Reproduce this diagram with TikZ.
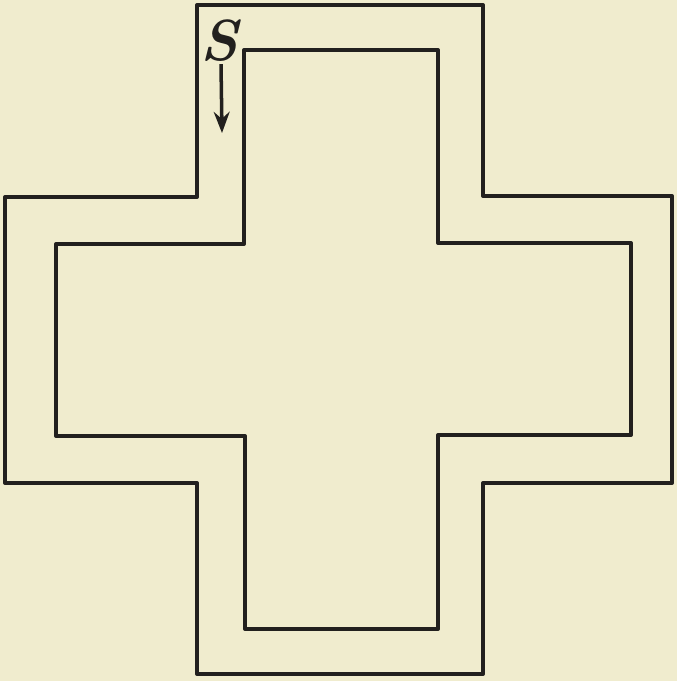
\documentclass[tikz,border=0pt]{standalone}
\usepackage{tikz}
\usetikzlibrary{arrows.meta, positioning}

\definecolor{paper}{RGB}{240,236,206}
\definecolor{ink}{RGB}{34,32,30}

\begin{document}
\begin{tikzpicture}[
        x=0.02cm, y=-0.02cm,
        wall/.style={draw=ink, line width=2.3pt, line join=round},
        start/.style={font=\fontsize{33}{33}\selectfont\bfseries\itshape, text=ink, inner sep=0pt},
        arrow/.style={-{Stealth[length=12pt, width=9pt]}, draw=ink, line width=2pt}
    ]
    
    % page
    \fill[paper] (0,0) rectangle (677,681);
    \useasboundingbox (0,0) rectangle (677,681);
    
    % outer cross
    \draw[wall] (197,5) -- (483,5) -- (483,196) -- (672,196) -- (672,483)
        -- (483,483) -- (483,674) -- (197,674) -- (197,483) -- (5,483)
        -- (5,197) -- (197,197) -- cycle;
    
    % inner cross
    \draw[wall] (244,50) -- (438,50) -- (438,243) -- (631,243) -- (631,435)
        -- (438,435) -- (438,629) -- (245,629) -- (245,436) -- (56,436)
        -- (56,244) -- (244,244) -- cycle;
    
    % start mark
    \node[start] (S) at (219,41) {S};
    \coordinate (goal) at (222,133);
    \draw[arrow] (S.south) ++(2,2) coordinate (tail) -- (goal);
    
\end{tikzpicture}
\end{document}
